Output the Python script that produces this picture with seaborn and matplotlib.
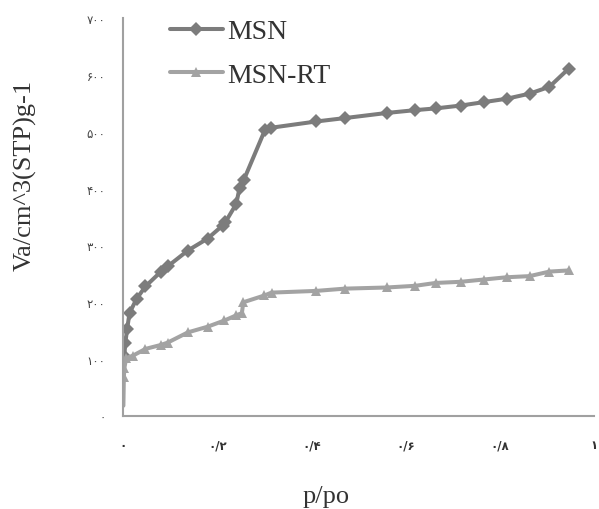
import matplotlib
matplotlib.use("Agg")
import matplotlib.pyplot as plt
import seaborn as sns
import pandas as pd

msn_x = [0.002, 0.004, 0.008, 0.013, 0.028, 0.047, 0.080, 0.094, 0.137, 0.179, 0.211, 0.217,
         0.240, 0.247, 0.256, 0.301, 0.314, 0.410, 0.471, 0.560, 0.621, 0.664, 0.717, 0.766,
         0.815, 0.864, 0.906, 0.947]
msn_y = [106, 128, 153, 181, 206, 228, 254, 263, 291, 312, 335, 341,
         373, 401, 415, 503, 507, 518, 524, 533, 538, 541, 546, 552,
         558, 567, 579, 611]

rt_x = [0.0, 0.001, 0.002, 0.006, 0.020, 0.047, 0.080, 0.094, 0.137, 0.179, 0.215, 0.240,
        0.252, 0.255, 0.300, 0.315, 0.410, 0.471, 0.560, 0.621, 0.664, 0.717, 0.766,
        0.815, 0.864, 0.906, 0.947]
rt_y = [18, 68, 84, 102, 106, 118, 125, 129, 147, 157, 168, 177,
        181, 200, 212, 217, 220, 224, 226, 229, 234, 236, 240,
        244, 246, 254, 256]

x_ticks = [0, 0.2, 0.4, 0.6, 0.8, 1.0]
x_tick_labels = ["۰", "۰/۲", "۰/۴", "۰/۶", "۰/۸", "۱"]
y_ticks = [0, 100, 200, 300, 400, 500, 600, 700]
y_tick_labels = ["۰", "۱۰۰", "۲۰۰", "۳۰۰", "۴۰۰", "۵۰۰", "۶۰۰", "۷۰۰"]

sns.set_style("white")

df_msn = pd.DataFrame({"p": msn_x, "v": msn_y})
df_rt = pd.DataFrame({"p": rt_x, "v": rt_y})

fig = plt.figure(figsize=(5.99, 5.10), dpi=100)
ax = fig.add_axes([0.206, 0.1824, 0.785, 0.7803])

sns.lineplot(data=df_msn, x="p", y="v", ax=ax, sort=False, color="#7c7c7c",
             linewidth=2.9, marker="D", markersize=7, markeredgewidth=0, label="MSN")
sns.lineplot(data=df_rt, x="p", y="v", ax=ax, sort=False, color="#a3a3a3",
             linewidth=2.9, marker="^", markersize=7.5, markeredgewidth=0,
             markevery=list(range(1, len(rt_x))), label="MSN-RT")

ax.set_xlim(0, 1.0)
ax.set_ylim(0, 700)
ax.set_xticks(x_ticks)
ax.set_xticklabels(x_tick_labels, fontsize=8.5, fontweight="bold", family="DejaVu Sans", color="#333333")
ax.set_yticks(y_ticks)
ax.set_yticklabels(y_tick_labels, fontsize=8.5, family="DejaVu Sans", color="#444444")
ax.tick_params(axis="both", direction="in", length=5, width=1, color="#a0a0a0")
ax.tick_params(axis="x", pad=16)
ax.tick_params(axis="y", pad=13)

for s in ["top", "right"]:
    ax.spines[s].set_visible(False)
for s in ["left", "bottom"]:
    ax.spines[s].set_color("#a0a0a0")
    ax.spines[s].set_linewidth(1.5)

ax.set_xlabel("p/po", family="Liberation Serif", fontsize=19, color="#333333")
ax.set_ylabel("Va/cm^3(STP)g-1", family="Liberation Serif", fontsize=19, color="#333333")
ax.xaxis.label.set_va("center")
ax.yaxis.label.set_va("center")
ax.xaxis.set_label_coords(0.431, -0.201)
ax.yaxis.set_label_coords(-0.2096, 0.608)

leg = ax.legend(loc="upper left", bbox_to_anchor=(170 / 599, 1 - 20 / 510),
                bbox_transform=fig.transFigure, frameon=False, borderpad=0, borderaxespad=0,
                prop={"family": "Liberation Serif", "size": 20}, handlelength=1.9,
                labelspacing=0.65, handletextpad=0.15)
for t in leg.get_texts():
    t.set_color("#333333")

fig.savefig("out.png", dpi=100)
